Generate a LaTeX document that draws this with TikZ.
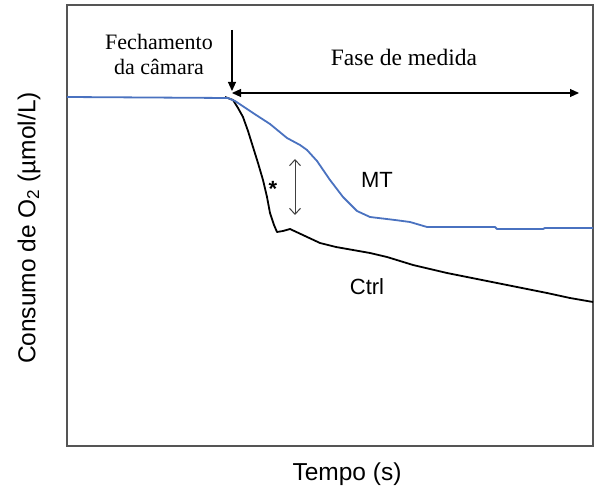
\documentclass[tikz,border=0pt]{standalone}
\usepackage{fontspec}
\setmainfont{Liberation Serif}
\setsansfont{Liberation Sans}
\usetikzlibrary{arrows.meta}
\definecolor{mtblue}{HTML}{4A72C0}
\definecolor{frame}{HTML}{555555}
\tikzset{
  serif/.style={font=\fontsize{22}{25}\selectfont, align=center, inner sep=0pt},
  sans/.style={font=\sffamily\fontsize{22}{24}\selectfont, inner sep=0pt},
  bigsans/.style={font=\sffamily\fontsize{24.5}{26}\selectfont, inner sep=0pt},
  curve/.style={line width=1.8pt, line join=round},
  pointer/.style={line width=1.1pt, -{Triangle[length=9pt,width=8pt]}},
  span/.style={line width=1.1pt, {Triangle[length=9pt,width=8pt]}-{Triangle[length=9pt,width=8pt]}},
  diff/.style={line width=1pt, draw=black!75, {Straight Barb[length=6pt,width=11pt]}-{Straight Barb[length=6pt,width=11pt]}}
}
\begin{document}
\begin{tikzpicture}[x=1pt,y=-1pt]
\useasboundingbox (0,0) rectangle (595,497);
\fill[white] (0,0) rectangle (595,497);
% frame
\draw[frame, line width=2pt] (67,5) rectangle (593,446);
% black curve (Ctrl)
\draw[curve, black] (225,97) -- (233,100) -- (238,108) -- (243,117) -- (248,131) -- (253,147) -- (258,163) -- (263,180) -- (267,197) -- (270,213) -- (274,225) -- (277,232)
  -- (283,231) -- (290,229) -- (305,236) -- (320,243) -- (336,247) -- (353,250) -- (370,253) -- (387,257) -- (413,265)
  -- (430,269) -- (447,273) -- (472,278) -- (497,283) -- (522,288) -- (547,293) -- (570,298) -- (593,302);
% blue curve (MT)
\draw[curve, mtblue] (67,97) -- (228,98) -- (235,101) -- (253,113) -- (270,124) -- (287,138)
  -- (300,145) -- (307,150) -- (317,161) -- (330,180) -- (343,197) -- (357,211) -- (370,217)
  -- (395,220) -- (410,222) -- (427,227) -- (495,227) -- (497,229) -- (543,229) -- (545,228) -- (593,228);
% labels
\node[serif] (fech) at (159,54) {Fechamento\\da câmara};
\node[serif, font=\fontsize{23.5}{25}\selectfont] (fase) at (404,57) {Fase de medida};
\node[sans] (mt) at (377,180) {MT};
\node[sans] (ctrl) at (367,287) {Ctrl};
\node[bigsans] (tempo) at (347,474) {Tempo (s)};
\node[bigsans, rotate=90] (ylab) at (29,228) {Consumo de O\textsubscript{2} (µmol/L)};
\node[font=\sffamily\bfseries\fontsize{22}{22}\selectfont, inner sep=0pt] (star) at (273,189) {*};
% arrows
\coordinate (closeTop) at (232,30);
\coordinate (closeTip) at (232,91);
\coordinate (spanL) at (232,93);
\coordinate (spanR) at (579,93);
\coordinate (dTop) at (295,159);
\coordinate (dBot) at (295,215);
\draw[pointer] (closeTop) -- (closeTip);
\draw[span] (spanL) -- (spanR);
\draw[diff] (dTop) -- (dBot);
\end{tikzpicture}
\end{document}
